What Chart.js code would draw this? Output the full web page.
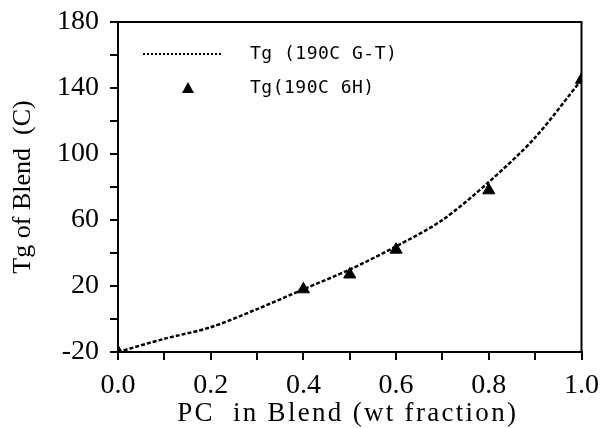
<!DOCTYPE html>
<html>
<head>
<meta charset="utf-8">
<script src="https://cdn.jsdelivr.net/npm/chart.js@4.4.0/dist/chart.umd.min.js"></script>
<style>
  html, body { margin: 0; padding: 0; background: #fff; }
  #wrap { width: 608px; height: 428px; }
</style>
</head>
<body>
<div id="wrap"><canvas id="chart" width="608" height="428"></canvas></div>
<script>
// Data
const fitX = [0.0, 0.1, 0.2, 0.3, 0.4, 0.5, 0.6, 0.7, 0.8, 0.9, 1.0];
const fitTg = [-20, -12, -5, 6, 18, 30, 44, 60, 83, 110, 145];
const measX = [0.0, 0.4, 0.5, 0.6, 0.8, 1.0];
const measTg = [-20, 18, 27, 42, 78, 145];
const xTickLabels = ['0.0', '0.2', '0.4', '0.6', '0.8', '1.0'];
const yTickLabels = ['-20', '20', '60', '100', '140', '180'];
const xTitle = 'PC  in Blend (wt fraction)';

const serif = '"Liberation Serif", "Times New Roman", serif';
const mono = '"DejaVu Sans Mono", monospace';

// box around the plot, legend inside the plot, spaced-out x title
const framePlugin = {
  id: 'frame',
  afterDraw(chart) {
    const { ctx, chartArea: a } = chart;
    ctx.save();
    ctx.strokeStyle = '#000';
    ctx.lineWidth = 2;
    ctx.strokeRect(a.left, a.top, a.right - a.left, a.bottom - a.top);

    // x title
    ctx.fillStyle = '#000';
    ctx.font = '27px ' + serif;
    ctx.letterSpacing = '2.3px';
    ctx.textAlign = 'center';
    ctx.textBaseline = 'middle';
    ctx.fillText(xTitle, (a.left + a.right) / 2 - 2, 414);
    ctx.letterSpacing = '0px';

    // legend
    const ds = chart.data.datasets;
    ctx.textAlign = 'left';
    ctx.font = '18px ' + mono;
    ctx.letterSpacing = '0.5px';
    // line entry
    ctx.setLineDash([2, 2]);
    ctx.lineWidth = 2;
    ctx.beginPath();
    ctx.moveTo(143, 54);
    ctx.lineTo(223, 54);
    ctx.stroke();
    ctx.setLineDash([]);
    ctx.fillText(ds[0].label, 250, 54);
    // marker entry
    ctx.beginPath();
    ctx.moveTo(188, 82);
    ctx.lineTo(194, 93);
    ctx.lineTo(182, 93);
    ctx.closePath();
    ctx.fill();
    ctx.fillText(ds[1].label, 250, 88);
    ctx.restore();
  }
};

new Chart(document.getElementById('chart'), {
  type: 'scatter',
  data: {
    datasets: [
      {
        label: 'Tg (190C G-T)',
        data: fitX.map((x, i) => ({ x: x, y: fitTg[i] })),
        showLine: true,
        borderColor: '#000',
        borderWidth: 2.5,
        borderDash: [4, 2],
        pointRadius: 0,
        tension: 0.3
      },
      {
        label: 'Tg(190C 6H)',
        data: measX.map((x, i) => ({ x: x, y: measTg[i] })),
        showLine: false,
        pointStyle: 'triangle',
        pointRadius: 7,
        backgroundColor: '#000',
        borderColor: '#000'
      }
    ]
  },
  options: {
    responsive: false,
    animation: false,
    layout: { padding: { top: 22, right: 25, left: 8, bottom: 0 } },
    plugins: {
      legend: { display: false },
      tooltip: { enabled: false }
    },
    scales: {
      x: {
        type: 'linear',
        min: 0,
        max: 1,
        afterFit(scale) { scale.height = 76; },
        border: { display: true, color: '#000', width: 2 },
        grid: { drawOnChartArea: false, color: '#000', lineWidth: 2, tickLength: 8 },
        ticks: {
          stepSize: 0.1,
          color: '#000',
          font: { family: serif, size: 28 },
          padding: 9,
          maxRotation: 0,
          autoSkip: false,
          callback: function (value) {
            const i = Math.round(value * 10);
            return i % 2 === 0 ? xTickLabels[i / 2] : '';
          }
        }
      },
      y: {
        min: -20,
        max: 180,
        afterFit(scale) {
          scale.width = 110;
          scale.paddingTop = 0;
          scale.paddingBottom = 0;
        },
        border: { display: true, color: '#000', width: 2 },
        grid: { drawOnChartArea: false, color: '#000', lineWidth: 2, tickLength: 8 },
        ticks: {
          stepSize: 20,
          color: '#000',
          font: { family: serif, size: 28 },
          padding: 11,
          autoSkip: false,
          callback: function (value) {
            const i = Math.round((value + 20) / 20);
            return i % 2 === 0 ? yTickLabels[i / 2] : '';
          }
        },
        title: {
          display: true,
          text: 'Tg of Blend  (C)',
          color: '#000',
          font: { family: serif, size: 26 },
          padding: { top: 0, bottom: 0 }
        }
      }
    }
  },
  plugins: [framePlugin]
});
</script>
</body>
</html>
